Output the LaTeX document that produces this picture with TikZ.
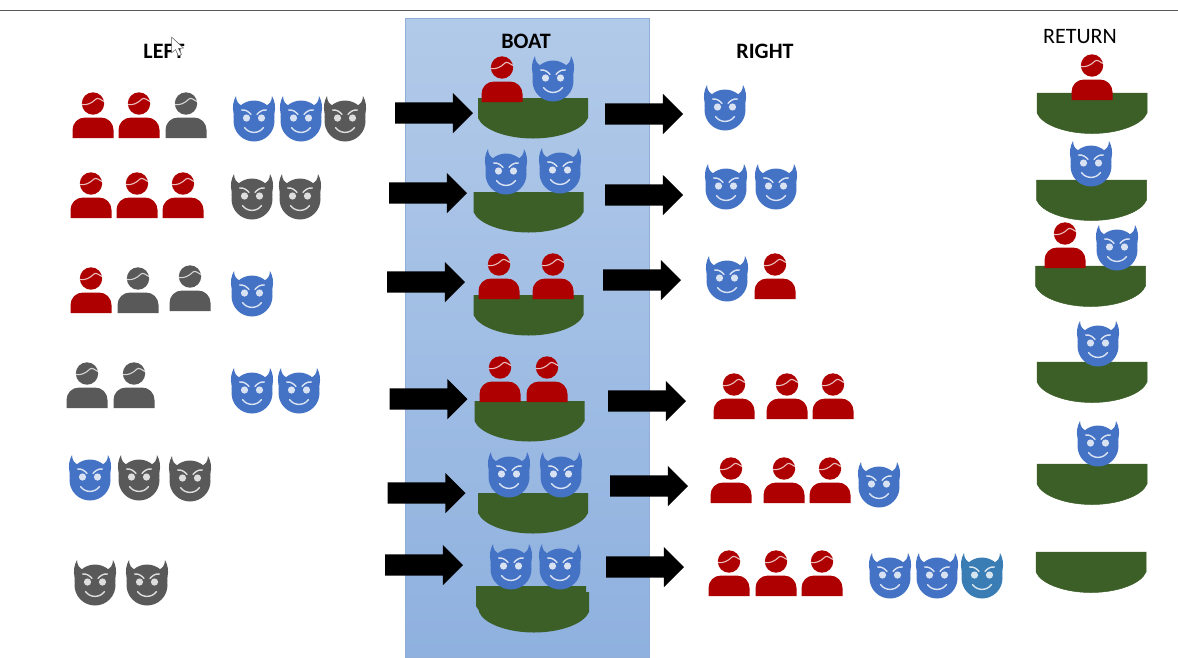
\documentclass[tikz,border=0pt]{standalone}
\usepackage{fontspec}
\setmainfont{Carlito}
\usetikzlibrary{shapes.arrows}
\definecolor{redc}{HTML}{AE0000}
\definecolor{grayc}{HTML}{595959}
\definecolor{bluec}{HTML}{4472C4}
\definecolor{tealc}{HTML}{3A7DB4}
\definecolor{greenc}{HTML}{3B5F26}
\definecolor{boatedge}{HTML}{46687A}
\definecolor{paneltop}{HTML}{B2CAE9}
\definecolor{panelbot}{HTML}{8FB1DF}
\definecolor{paneledge}{HTML}{8FAFD8}
\tikzset{
  x=1pt,y=-1pt,
  blockarrow/.style={single arrow,fill=black,draw=none,inner xsep=0pt,inner ysep=10.5pt,outer sep=0pt,
    minimum height=78pt,single arrow head extend=9.5pt,anchor=tail},
  heading/.style={font=\fontsize{22}{22}\selectfont\bfseries,text=black,inner sep=0pt},
  personicon/.pic={
    \fill[pic actions] (-20.5,0) -- (-20.5,-8) .. controls (-20.5,-15) and (-15,-20.5) .. (-8,-20.5)
      -- (8,-20.5) .. controls (15,-20.5) and (20.5,-15) .. (20.5,-8) -- (20.5,0) -- cycle;
    \fill[pic actions] (0,-34.5) circle[radius=11.2];
    \draw[white,opacity=.75,line width=1.1pt] (-11,-33.5) .. controls (-6,-32.5) and (-1,-35) .. (3,-39)
      .. controls (5,-41) and (8,-38) .. (11,-36.5);
  },
  devilicon/.pic={
    \fill[pic actions] (0,0) circle[radius=20.5];
    \fill[pic actions] (-20.3,-3) -- (-20.5,-8) .. controls (-21.8,-14) and (-20.8,-20) .. (-18,-25)
      .. controls (-17.8,-20) and (-16,-17) .. (-11.5,-15) -- cycle;
    \fill[pic actions] (20.3,-3) -- (20.5,-8) .. controls (21.8,-14) and (20.8,-20) .. (18,-25)
      .. controls (17.8,-20) and (16,-17) .. (11.5,-15) -- cycle;
    \fill[white,opacity=.8] (-7.5,-3) circle[radius=3.6] (7.5,-3) circle[radius=3.6];
    \draw[white,opacity=.8,line width=1.4pt,line cap=round]
      (-12.5,-11) .. controls (-8,-11.5) and (-5,-9) .. (-3,-6.5)
      (12.5,-11) .. controls (8,-11.5) and (5,-9) .. (3,-6.5)
      (-9.5,6.5) .. controls (-5,13) and (5,13) .. (9.5,6.5);
  },
  boaticon/.pic={
    \fill[greenc,pic actions] (-55,0) -- (55,0) -- (55,20) .. controls (50,32) and (26,40.5) .. (0,40.5)
      .. controls (-26,40.5) and (-50,32) .. (-55,20) -- cycle;
  },
}
\newcommand{\Per}[3]{\pic[fill=#3] at (#1,#2) {personicon};}
\newcommand{\Dev}[3]{\pic[fill=#3] at (#1,#2) {devilicon};}
\newcommand{\Boat}[2]{\pic[fill=greenc] at (#1,#2) {boaticon};}
\newcommand{\RBoat}[2]{\pic[fill=greenc,draw=boatedge,line width=.5pt] at (#1,#2) {boaticon};}
\begin{document}
\begin{tikzpicture}
\useasboundingbox (0,0) rectangle (1178,657);
\fill[white] (0,0) rectangle (1178,657);
\draw[grayc,line width=.8pt] (0,10) -- (1178,10);
\shade[top color=paneltop,bottom color=panelbot,draw=paneledge,line width=.6pt] (405,18.5) rectangle (649,657);

\node[heading] (left) at (164,51) {LEFT};
\node[heading] (boat) at (526,41) {BOAT};
\node[heading] (right) at (765,51) {RIGHT};
\node[font=\fontsize{22}{22}\selectfont,inner sep=0pt] (return) at (1080,37) {RETURN};
\draw[grayc,fill=white,line width=.5pt,line join=round]
  (171.5,37) -- (171.5,53) -- (175.5,49.5) -- (178.5,56) -- (181.5,54.5) -- (178.5,48.5) -- (183.5,48) -- cycle;

% left bank
\Per{93}{138}{redc}\Per{139}{138}{redc}\Per{186}{138}{grayc}
\Dev{254}{121}{bluec}\Dev{301}{121}{bluec}\Dev{345}{121}{grayc}
\Per{91}{218}{redc}\Per{137}{218}{redc}\Per{183}{218}{redc}
\Dev{252}{199}{grayc}\Dev{300}{199}{grayc}
\Per{91}{313}{redc}\Per{138}{313}{grayc}\Per{190}{311}{grayc}
\Dev{252}{296}{bluec}
\Per{87}{408}{grayc}\Per{134}{408}{grayc}
\Dev{252}{393}{bluec}\Dev{299}{393}{bluec}
\Dev{90}{480}{bluec}\Dev{139}{480}{grayc}\Dev{190}{481}{grayc}
\Dev{95}{585}{grayc}\Dev{147}{585}{grayc}

% boats in the middle
\Boat{533}{98}\Boat{528.5}{192}\Boat{528.5}{295}\Boat{529.5}{401}\Boat{533}{493}
\Boat{531}{586}\Boat{534}{592}
\Per{502}{102}{redc}\Dev{553}{81}{bluec}
\Dev{506}{174}{bluec}\Dev{560}{173}{bluec}
\Per{499}{299}{redc}\Per{553}{299}{redc}
\Per{500}{402}{redc}\Per{547}{402}{redc}
\Dev{509}{477}{bluec}\Dev{561}{477}{bluec}
\Dev{511}{569}{bluec}\Dev{560}{569}{bluec}

% arrows
\node[blockarrow] (a1) at (395,113) {};
\node[blockarrow] (b1) at (605,114) {};
\node[blockarrow] (a2) at (389,193) {};
\node[blockarrow] (b2) at (605,195) {};
\node[blockarrow] (a3) at (387,282) {};
\node[blockarrow] (b3) at (603,280) {};
\node[blockarrow] (a4) at (389.5,399) {};
\node[blockarrow] (b4) at (608,401) {};
\node[blockarrow] (a5) at (387.5,493) {};
\node[blockarrow] (b5) at (610,486) {};
\node[blockarrow] (a6) at (385,565) {};
\node[blockarrow] (b6) at (606,567) {};

% right bank
\Dev{725}{110}{bluec}
\Dev{726}{189}{bluec}\Dev{776}{189}{bluec}
\Dev{727}{281}{bluec}\Per{775}{299}{redc}
\Per{734}{419}{redc}\Per{787}{419}{redc}\Per{833}{419}{redc}
\Per{731}{503}{redc}\Per{784}{503}{redc}\Per{830}{503}{redc}\Dev{879}{487}{bluec}
\Per{729}{596}{redc}\Per{776}{596}{redc}\Per{822}{596}{redc}
\Dev{890}{578}{bluec}\Dev{937}{578}{bluec}\Dev{982}{578}{tealc}

% return
\RBoat{1092}{93}\RBoat{1091.5}{180}\RBoat{1090.5}{266}\RBoat{1092}{362}\RBoat{1092}{464}\RBoat{1091}{552}
\Per{1092}{100}{redc}
\Dev{1091}{166}{bluec}
\Per{1065}{268}{redc}\Dev{1117}{250}{bluec}
\Dev{1098}{346}{bluec}
\Dev{1098}{446}{bluec}
\end{tikzpicture}
\end{document}
